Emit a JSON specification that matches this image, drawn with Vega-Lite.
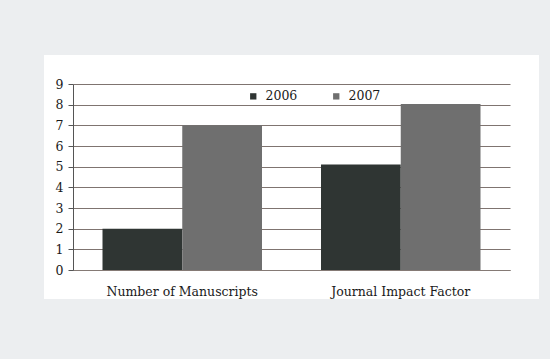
{
  "$schema": "https://vega.github.io/schema/vega-lite/v6.json",
  "width": 437,
  "height": 186,
  "autosize": {"type": "none"},
  "padding": {"left": 73, "top": 84, "right": 40, "bottom": 89},
  "background": "#eceef0",
  "data": {
    "values": [
      {"category": "Number of Manuscripts", "year": "2006", "value": 2},
      {"category": "Number of Manuscripts", "year": "2007", "value": 7},
      {"category": "Journal Impact Factor", "year": "2006", "value": 5.1},
      {"category": "Journal Impact Factor", "year": "2007", "value": 8.03}
    ]
  },
  "mark": {"type": "bar"},
  "encoding": {
    "x": {
      "field": "category",
      "type": "nominal",
      "sort": ["Number of Manuscripts", "Journal Impact Factor"],
      "scale": {"paddingInner": 0.27, "paddingOuter": 0.135},
      "axis": {
        "title": null,
        "labelAngle": 0,
        "ticks": false,
        "labelPadding": 15,
        "domain": true,
        "domainColor": "#857a75",
        "labelFont": "DejaVu Serif",
        "labelFontSize": 12.5,
        "labelColor": "#1a1a1a"
      }
    },
    "xOffset": {"field": "year", "type": "nominal", "scale": {"paddingInner": 0, "paddingOuter": 0}},
    "y": {
      "field": "value",
      "type": "quantitative",
      "scale": {"domain": [0, 9], "nice": false},
      "axis": {
        "title": null,
        "values": [0, 1, 2, 3, 4, 5, 6, 7, 8, 9],
        "grid": true,
        "gridColor": "#7f7470",
        "gridOpacity": 1,
        "gridWidth": 1.2,
        "domain": true,
        "domainColor": "#555555",
        "tickColor": "#555555",
        "tickSize": 5,
        "labelPadding": 5,
        "labelFont": "DejaVu Serif",
        "labelFontSize": 12.5,
        "labelColor": "#1a1a1a"
      }
    },
    "color": {
      "field": "year",
      "type": "nominal",
      "scale": {"domain": ["2006", "2007"], "range": ["#2f3533", "#6f6f6f"]},
      "legend": {
        "title": null,
        "orient": "none",
        "direction": "horizontal",
        "legendX": 174,
        "legendY": 6,
        "padding": 0,
        "symbolType": "square",
        "symbolSize": 40,
        "symbolStrokeWidth": 0,
        "labelOffset": 6,
        "columnPadding": 32,
        "labelFont": "DejaVu Serif",
        "labelFontSize": 12.5,
        "labelColor": "#1a1a1a"
      }
    }
  },
  "config": {
    "view": {"fill": "white", "stroke": "white", "strokeWidth": 58}
  }
}
